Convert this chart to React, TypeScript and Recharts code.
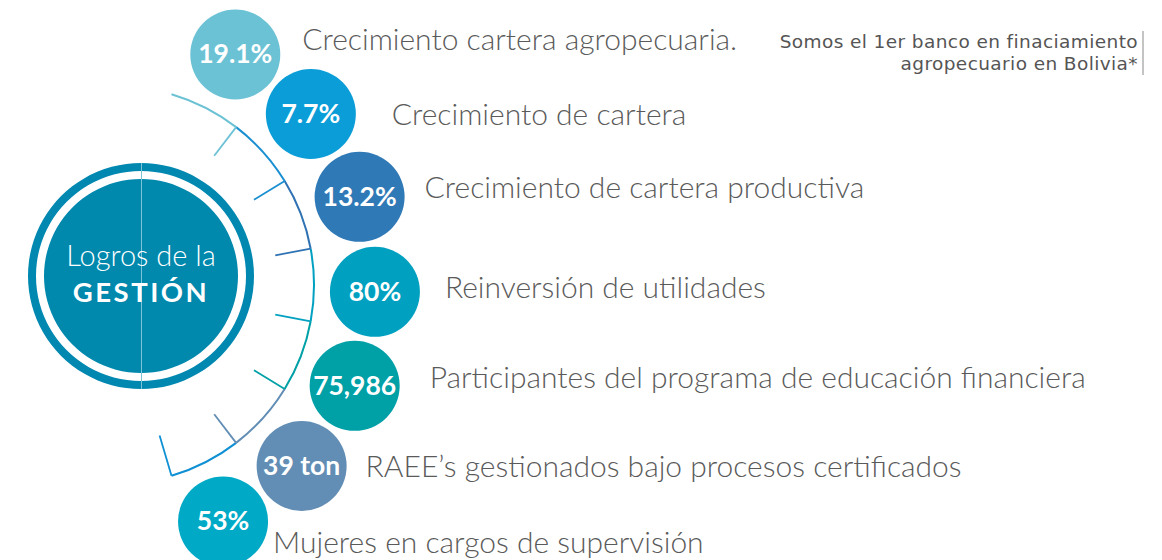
import React from 'react'
import { PieChart, Pie, Cell } from 'recharts'

// Logros de la gestión — bubbles along an arc
const values = ['19.1%', '7.7%', '13.2%', '80%', '75,986', '39 ton', '53%']
const labels = [
  'Crecimiento cartera agropecuaria.',
  'Crecimiento de cartera',
  'Crecimiento de cartera productiva',
  'Reinversión de utilidades',
  'Participantes del programa de educación financiera',
  'RAEE’s gestionados bajo procesos certificados',
  'Mujeres en cargos de supervisión',
]
const bubbleColors = ['#6cc2d5', '#0b9dd8', '#2f79b6', '#00a1c0', '#00a0a7', '#628db4', '#00aac6']
const arcColors = ['#6cc2d5', '#1a8fd1', '#2f72b3', '#00a1c0', '#00a0a7', '#628db4', '#0f90d4']
const noteLines = ['Somos el 1er banco en finaciamiento', 'agropecuario en Bolivia*']

const W = 1162
const H = 560
const RAD = Math.PI / 180
const ARC = { cx: 115, cy: 285, r: 199, start: 73.5, end: -73.5 }
const BUB = { r: 45, orbit: 260, start: 73.1, end: -76.1 }
const HUB = { cx: 141, cy: 276 }
const TICK = 36
// label nudges relative to each bubble (gap to the right, baseline shift)
const labelGap = [22, 36, 20, 25, 30, 19, 5]
const labelDy = [-4, 11, 1, 6, 2, 11, 32]

const segData = labels.map((name, i) => ({ name, weight: 1, i }))
const hubData = [{ name: 'hub', weight: 1 }]

const pos = (cx: number, cy: number, r: number, a: number) => ({
  x: cx + r * Math.cos(-a * RAD),
  y: cy + r * Math.sin(-a * RAD),
})

function renderTick(props: any) {
  const { cx, cy, outerRadius, endAngle, index } = props
  const len = index === labels.length - 1 ? 42 : TICK
  const a = pos(cx, cy, outerRadius - 1, endAngle)
  const b = pos(cx, cy, outerRadius - 1 - len, endAngle)
  return (
    <line key={`t${index}`} x1={a.x} y1={a.y} x2={b.x} y2={b.y} stroke={arcColors[index]} strokeWidth={1.8} />
  )
}

function renderBubble(props: any) {
  const { cx, cy, midAngle, index } = props
  const p = pos(cx, cy, BUB.orbit, midAngle)
  return (
    <g key={`b${index}`}>
      <circle cx={p.x} cy={p.y} r={BUB.r} fill={bubbleColors[index]} />
      <text
        x={p.x}
        y={p.y + 9}
        textAnchor="middle"
        fill="#fff"
        fontFamily="Lato, sans-serif"
        fontWeight={700}
        fontSize={26.5}
      >
        {values[index]}
      </text>
      <text
        x={p.x + BUB.r + labelGap[index]}
        y={p.y + labelDy[index]}
        fill="#5a5a5a"
        fontFamily="Lato, sans-serif"
        fontWeight={300}
        fontSize={30}
      >
        {labels[index]}
      </text>
    </g>
  )
}

function renderHub() {
  return (
    <g key="hub">
      <line x1={HUB.cx + 0.5} y1={HUB.cy - 113} x2={HUB.cx + 0.5} y2={HUB.cy + 113} stroke="#7cc3d8" strokeWidth={1} />
      <text x={HUB.cx} y={266} textAnchor="middle" fill="#fff" fontFamily="Lato, sans-serif" fontWeight={300} fontSize={29}>
        Logros de la
      </text>
      <text
        x={HUB.cx}
        y={302}
        textAnchor="middle"
        fill="#fff"
        fontFamily="Lato, sans-serif"
        fontWeight={700}
        fontSize={27.5}
        letterSpacing={2.5}
      >
        GESTIÓN
      </text>
    </g>
  )
}

export default function App() {
  return (
    <div style={{ position: 'relative', width: W, height: H, background: '#fff' }}>
      <style>{'body{margin:0}'}</style>
      <PieChart width={W} height={H} margin={{ top: 0, right: 0, bottom: 0, left: 0 }}>
        <Pie
          data={hubData}
          dataKey="weight"
          cx={HUB.cx}
          cy={HUB.cy}
          innerRadius={105}
          outerRadius={113}
          startAngle={90}
          endAngle={-270}
          stroke="none"
          fill="#0088b0"
          isAnimationActive={false}
        />
        <Pie
          data={hubData}
          dataKey="weight"
          cx={HUB.cx}
          cy={HUB.cy}
          innerRadius={0}
          outerRadius={97}
          startAngle={90}
          endAngle={-270}
          stroke="none"
          fill="#0088ad"
          label={renderHub}
          labelLine={false}
          isAnimationActive={false}
        />
        <Pie
          data={segData}
          dataKey="weight"
          cx={ARC.cx}
          cy={ARC.cy}
          innerRadius={ARC.r - 1}
          outerRadius={ARC.r + 1}
          startAngle={ARC.start}
          endAngle={ARC.end}
          stroke="none"
          label={renderTick}
          labelLine={false}
          isAnimationActive={false}
        >
          {segData.map((d) => (
            <Cell key={d.name} fill={arcColors[d.i]} />
          ))}
        </Pie>
        <Pie
          data={segData}
          dataKey="weight"
          cx={ARC.cx}
          cy={ARC.cy}
          innerRadius={BUB.orbit}
          outerRadius={BUB.orbit}
          startAngle={BUB.start}
          endAngle={BUB.end}
          stroke="none"
          fill="none"
          label={renderBubble}
          labelLine={false}
          isAnimationActive={false}
        />
      </PieChart>
      <div
        style={{
          position: 'absolute',
          right: 18,
          top: 31,
          paddingRight: 4,
          borderRight: '2px solid #c4c4c4',
          textAlign: 'right',
          fontFamily: '"DejaVu Sans", sans-serif',
          fontSize: 18.5,
          letterSpacing: 0.4,
          lineHeight: '22px',
          color: '#555',
        }}
      >
        {noteLines.map((l) => (
          <div key={l}>{l}</div>
        ))}
      </div>
    </div>
  )
}
